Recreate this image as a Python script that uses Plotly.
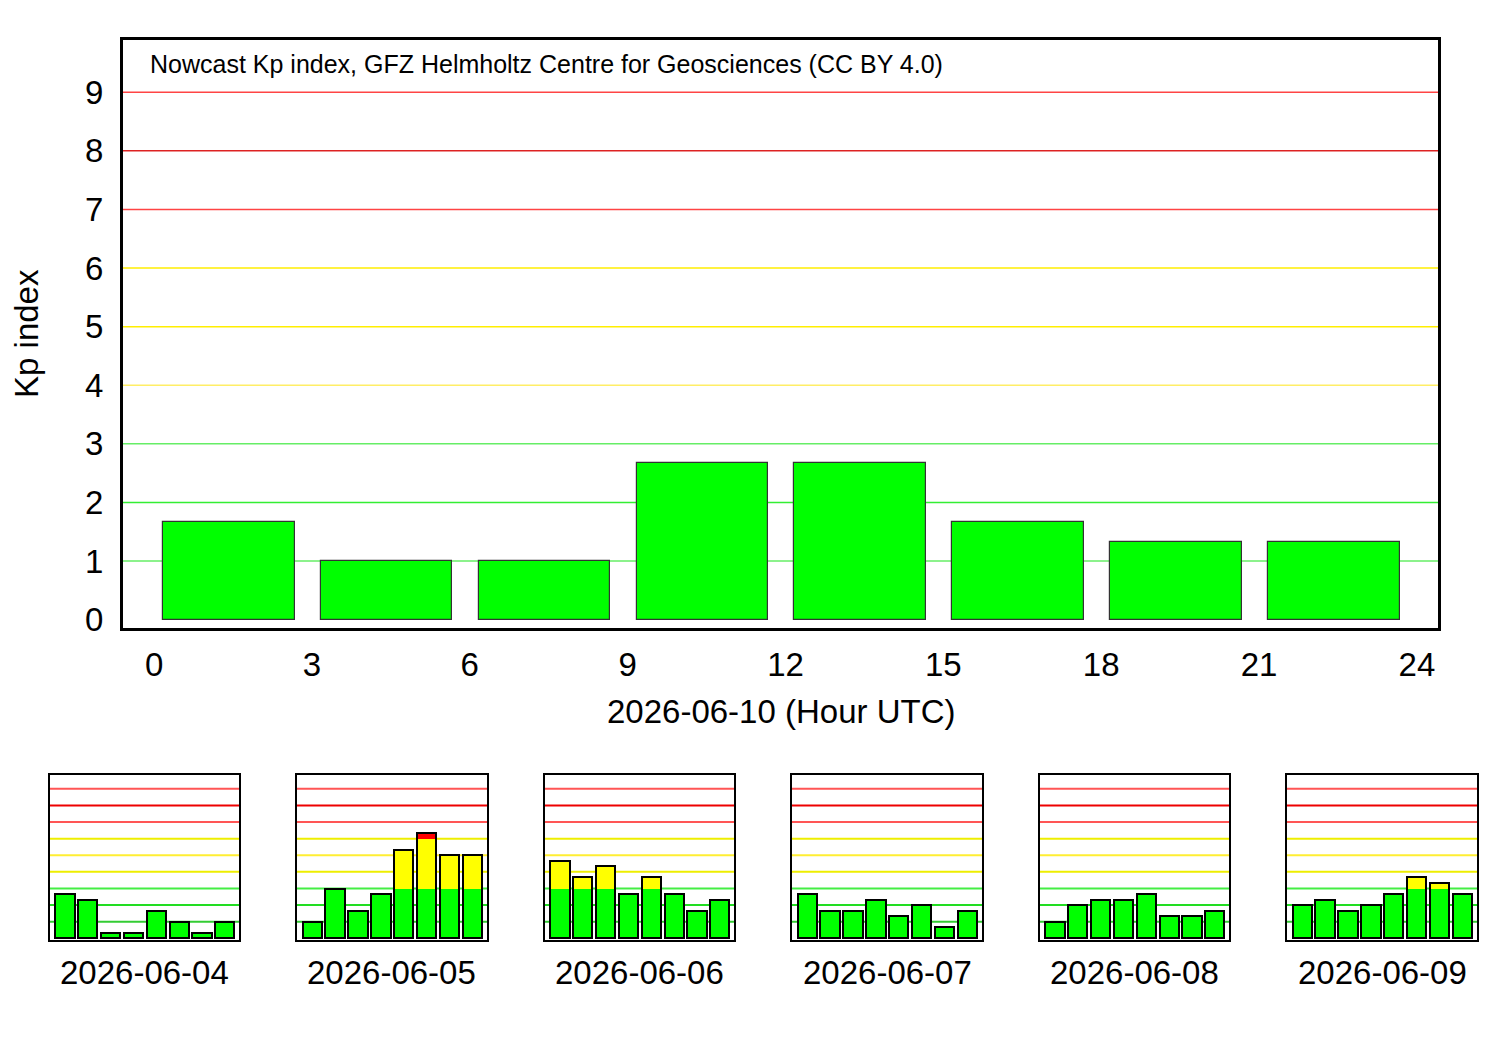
import plotly.graph_objects as go

# ---------------- data ----------------
main_day = "2026-06-10"
main_hours = [0, 3, 6, 9, 12, 15, 18, 21]
main_kp = [1.667, 1.0, 1.0, 2.667, 2.667, 1.667, 1.333, 1.333]

days = ["2026-06-04", "2026-06-05", "2026-06-06", "2026-06-07", "2026-06-08", "2026-06-09"]
kp_0604 = [2.667, 2.333, 0.333, 0.333, 1.667, 1.0, 0.333, 1.0]
kp_0605 = [1.0, 3.0, 1.667, 2.667, 5.333, 6.333, 5.0, 5.0]
kp_0606 = [4.667, 3.667, 4.333, 2.667, 3.667, 2.667, 1.667, 2.333]
kp_0607 = [2.667, 1.667, 1.667, 2.333, 1.333, 2.0, 0.667, 1.667]
kp_0608 = [1.0, 2.0, 2.333, 2.333, 2.667, 1.333, 1.333, 1.667]
kp_0609 = [2.0, 2.333, 1.667, 2.0, 2.667, 3.667, 3.333, 2.667]
small_kp = [kp_0604, kp_0605, kp_0606, kp_0607, kp_0608, kp_0609]

x_ticks = [0, 3, 6, 9, 12, 15, 18, 21, 24]
y_ticks = [0, 1, 2, 3, 4, 5, 6, 7, 8, 9]

# ---------------- styling ----------------
FONT = "Liberation Sans, Arial, Helvetica, sans-serif"
BIG = 33
GREEN, YELLOW, RED = "#00ff00", "#ffff00", "#ff0000"
main_grid_colors = {1: "#66ee66", 2: "#33ee33", 3: "#66ee66", 4: "#ffee66", 5: "#ffee00",
                    6: "#ffee00", 7: "#ff4444", 8: "#dd2222", 9: "#ff4444"}
small_grid_colors = {1: "#33cc33", 2: "#22dd22", 3: "#44ee44", 4: "#eeee00", 5: "#ffee33",
                     6: "#eeee00", 7: "#ff5555", 8: "#ee0000", 9: "#ff5555"}

W, H = 1500, 1050
YS = 1.0095  # vertical compensation


def px_x(a, b):
    return [a / W, b / W]


def py(y):
    return 1 - y * YS / H


def px_y(top, bottom):
    return [py(bottom), py(top)]


fig = go.Figure()


def add_stacked(xs, kp, xa, ya, width, offset, line_color, line_width):
    red = kp
    yel = [min(v, 6) for v in kp]
    grn = [min(v, 3) for v in kp]
    for vals, col in ((red, RED), (yel, YELLOW), (grn, GREEN)):
        fig.add_trace(go.Bar(x=xs, y=vals, xaxis=xa, yaxis=ya, width=width, offset=offset,
                             marker=dict(color=col, line=dict(width=0)),
                             showlegend=False, hoverinfo="skip"))
    fig.add_trace(go.Bar(x=xs, y=kp, xaxis=xa, yaxis=ya, width=width, offset=offset,
                         marker=dict(color="rgba(0,0,0,0)", line=dict(color=line_color, width=line_width)),
                         showlegend=False))


# main chart
add_stacked(main_hours, main_kp, "x", "y", 2.5, 0.17, "#333333", 1.2)

layout = dict(
    width=W, height=H, margin=dict(l=0, r=0, t=0, b=0),
    paper_bgcolor="white", plot_bgcolor="white",
    barmode="overlay", bargap=0,
    font=dict(family=FONT, color="black"),
    showlegend=False,
)
layout["xaxis"] = dict(domain=px_x(123, 1438), range=[-0.59, 24.4], tickvals=x_ticks,
                       showgrid=False, zeroline=False, showline=True, mirror=True,
                       linecolor="black", linewidth=3, ticks="", ticklabelstandoff=5,
                       tickfont=dict(size=BIG, family=FONT, color="black"), anchor="y")
layout["yaxis"] = dict(domain=px_y(40, 628), range=[-0.14, 9.89], tickvals=y_ticks,
                       showgrid=False, zeroline=False, showline=True, mirror=True,
                       linecolor="black", linewidth=3, ticks="", ticklabelstandoff=10,
                       tickfont=dict(size=BIG, family=FONT, color="black"), anchor="x")

shapes = []
for lvl in range(1, 10):
    shapes.append(dict(type="line", xref="x domain", yref="y", x0=0, x1=1, y0=lvl, y1=lvl,
                       line=dict(color=main_grid_colors[lvl], width=1.5), layer="below"))

small_x = [(50, 239), (297, 487), (545, 734), (792, 982), (1040, 1229), (1287, 1477)]
annotations = [
    dict(text="Nowcast Kp index, GFZ Helmholtz Centre for Geosciences (CC BY 4.0)",
         xref="paper", yref="paper", x=148 / W, y=py(64), xanchor="left", yanchor="middle",
         showarrow=False, font=dict(size=25, family=FONT, color="black")),
    dict(text="Kp index", xref="paper", yref="paper", x=27 / W, y=py(334), textangle=-90,
         xanchor="center", yanchor="middle", showarrow=False,
         font=dict(size=BIG, family=FONT, color="black")),
    dict(text=main_day + " (Hour UTC)", xref="paper", yref="paper", x=781 / W, y=py(712),
         xanchor="center", yanchor="middle", showarrow=False,
         font=dict(size=BIG, family=FONT, color="black")),
]

for i, (day, kp) in enumerate(zip(days, small_kp)):
    n = i + 2
    xa, ya = f"x{n}", f"y{n}"
    add_stacked(main_hours, kp, xa, ya, 2.5, 0.25, "black", 2)
    a, b = small_x[i]
    layout[f"xaxis{n}"] = dict(domain=px_x(a, b), range=[-0.47, 24.36], showticklabels=False,
                               showgrid=False, zeroline=False, showline=True, mirror=True,
                               linecolor="black", linewidth=2, ticks="", anchor=ya)
    layout[f"yaxis{n}"] = dict(domain=px_y(775, 940), range=[-0.1, 9.84], showticklabels=False,
                               showgrid=False, zeroline=False, showline=True, mirror=True,
                               linecolor="black", linewidth=2, ticks="", anchor=xa)
    for lvl in range(1, 10):
        shapes.append(dict(type="line", xref=f"{xa} domain", yref=ya, x0=0, x1=1, y0=lvl, y1=lvl,
                           line=dict(color=small_grid_colors[lvl], width=2), layer="below"))
    annotations.append(dict(text=day, xref="paper", yref="paper", x=(a + b) / 2 / W, y=py(973),
                            xanchor="center", yanchor="middle", showarrow=False,
                            font=dict(size=BIG, family=FONT, color="black")))

layout["shapes"] = shapes
layout["annotations"] = annotations
fig.update_layout(**layout)

fig.write_html("out.html")
